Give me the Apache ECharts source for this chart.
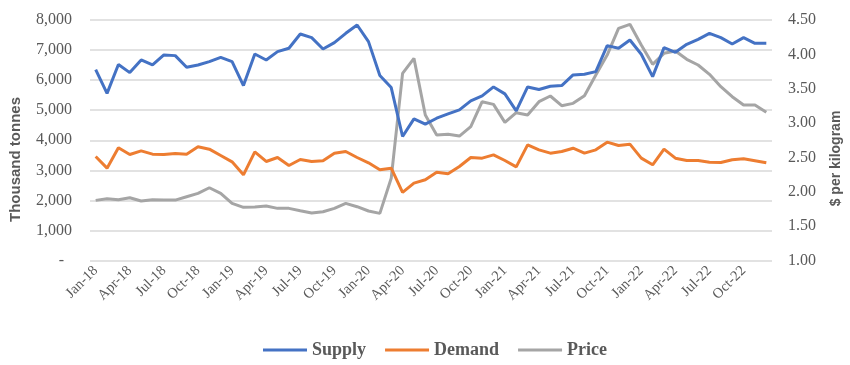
<!DOCTYPE html>
<html>
<head>
<meta charset="utf-8">
<script src="https://cdn.jsdelivr.net/npm/echarts@6/dist/echarts.min.js"></script>
<style>
html,body{margin:0;padding:0;background:#fff;}
#chart{width:850px;height:365px;}
</style>
</head>
<body>
<div id="chart"></div>
<script>
const months = [
 'Jan-18','Feb-18','Mar-18','Apr-18','May-18','Jun-18','Jul-18','Aug-18','Sep-18','Oct-18','Nov-18','Dec-18',
 'Jan-19','Feb-19','Mar-19','Apr-19','May-19','Jun-19','Jul-19','Aug-19','Sep-19','Oct-19','Nov-19','Dec-19',
 'Jan-20','Feb-20','Mar-20','Apr-20','May-20','Jun-20','Jul-20','Aug-20','Sep-20','Oct-20','Nov-20','Dec-20',
 'Jan-21','Feb-21','Mar-21','Apr-21','May-21','Jun-21','Jul-21','Aug-21','Sep-21','Oct-21','Nov-21','Dec-21',
 'Jan-22','Feb-22','Mar-22','Apr-22','May-22','Jun-22','Jul-22','Aug-22','Sep-22','Oct-22','Nov-22','Dec-22'
];
const supply = [
 6350,5560,6520,6250,6670,6505,6837,6815,6427,6505,6616,6760,
 6616,5818,6870,6671,6948,7059,7535,7413,7037,7247,7557,7834,
 7280,6151,5752,4124,4711,4534,4733,4877,5010,5309,5475,5774,
 5542,4977,5774,5686,5796,5818,6173,6195,6284,7147,7059,7336,
 6859,6117,7081,6926,7192,7358,7557,7413,7203,7413,7225,7225
];
const demand = [
 3460,3072,3748,3526,3648,3537,3526,3559,3537,3781,3703,3493,
 3282,2850,3615,3294,3426,3161,3360,3294,3316,3570,3626,3426,
 3249,3017,3072,2264,2574,2685,2939,2883,3127,3426,3404,3515,
 3327,3116,3847,3681,3570,3626,3736,3570,3681,3936,3825,3870,
 3404,3183,3703,3404,3327,3327,3271,3260,3349,3382,3316,3249
];
const price = [
 1.875,1.899,1.884,1.913,1.865,1.884,1.879,1.879,1.928,1.977,2.059,1.977,
 1.832,1.774,1.779,1.793,1.759,1.759,1.724,1.690,1.710,1.759,1.832,1.783,
 1.720,1.686,2.196,3.724,3.942,3.117,2.826,2.836,2.811,2.947,3.311,3.272,
 3.010,3.151,3.117,3.311,3.394,3.253,3.287,3.399,3.700,3.990,4.379,4.437,
 4.136,3.855,4.015,4.049,3.928,3.845,3.709,3.529,3.384,3.263,3.263,3.156
];
const seriesNames = ['Supply','Demand','Price'];
const axisTitles = ['Thousand tonnes','$ per kilogram'];
const colors = ['#4472C4','#ED7D31','#A5A5A5'];

const chart = echarts.init(document.getElementById('chart'), null, {renderer:'canvas'});
const serif = '"Liberation Serif","Times New Roman",serif';
const sans = '"Liberation Sans",Arial,sans-serif';
chart.setOption({
  animation:false,
  color: colors,
  grid:{left:90,right:78,top:20,bottom:104.5,containLabel:false},
  legend:{
    bottom:1, left:258,
    data: seriesNames,
    icon:'rect', itemWidth:44, itemHeight:3, itemGap:19,
    textStyle:{fontFamily:serif,fontWeight:'bold',fontSize:18,color:'#595959'}
  },
  graphic:[
    {type:'text', x:16, y:159.5, rotation:Math.PI/2,
     style:{text:axisTitles[0], x:0, y:0, align:'center', verticalAlign:'middle',
       font:'bold 15px "Liberation Sans", Arial, sans-serif', fill:'#595959'}},
    {type:'text', x:836, y:158.5, rotation:Math.PI/2,
     style:{text:axisTitles[1], x:0, y:0, align:'center', verticalAlign:'middle',
       font:'bold 14px "Liberation Sans", Arial, sans-serif', fill:'#595959'}}
  ],
  xAxis:{
    type:'category', data:months, boundaryGap:true,
    axisLine:{show:false}, axisTick:{show:false},
    axisLabel:{interval:2, rotate:45, margin:8, fontFamily:serif, fontSize:14.5, color:'#595959'}
  },
  yAxis:[
    {type:'value', min:0, max:8000, interval:1000,
     axisLine:{show:false}, axisTick:{show:false},
     axisLabel:{margin:18, fontFamily:serif, fontSize:16, color:'#595959',
       formatter:function(v){ return v===0 ? '-  ' : v.toLocaleString('en-US'); }},
     splitLine:{lineStyle:{color:'#d9d9d9',width:1.5}}
    },
    {type:'value', min:1, max:4.5, interval:0.5, position:'right',
     axisLine:{show:false}, axisTick:{show:false},
     axisLabel:{margin:16, fontFamily:serif, fontSize:16, color:'#595959',
       formatter:function(v){ return v.toFixed(2); }},
     splitLine:{show:false}
    }
  ],
  series:[
    {name:'Supply', type:'line', data:supply, yAxisIndex:0, showSymbol:false, symbol:'none',
     lineStyle:{width:3,color:colors[0]}, z:3},
    {name:'Demand', type:'line', data:demand, yAxisIndex:0, showSymbol:false, symbol:'none',
     lineStyle:{width:3,color:colors[1]}, z:2},
    {name:'Price', type:'line', data:price, yAxisIndex:1, showSymbol:false, symbol:'none',
     lineStyle:{width:3,color:colors[2]}, z:1}
  ]
});
</script>
</body>
</html>
